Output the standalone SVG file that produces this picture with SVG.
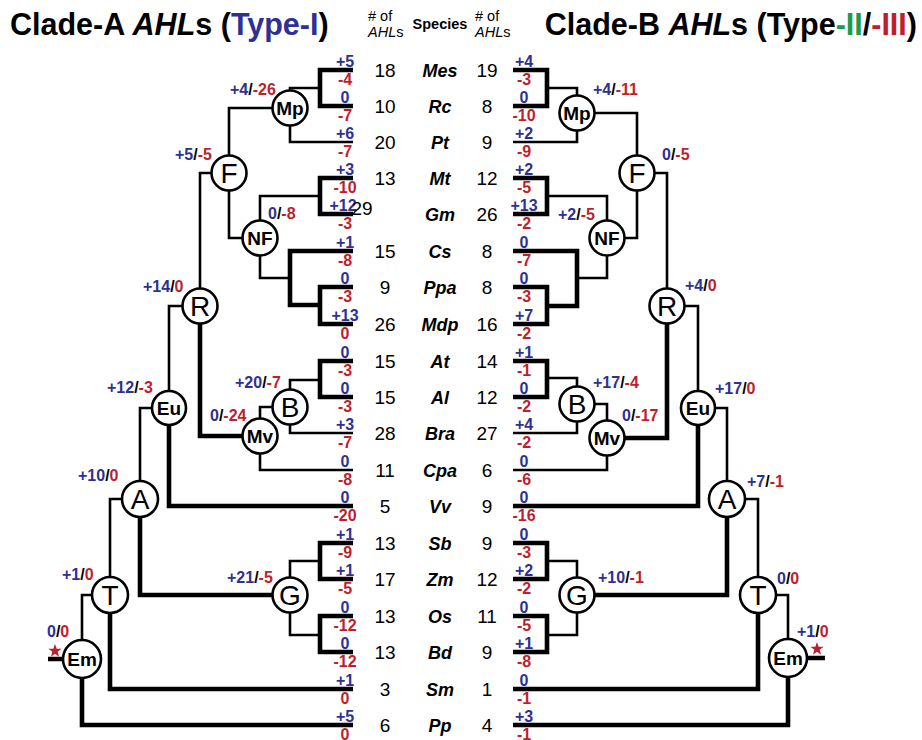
<svg xmlns="http://www.w3.org/2000/svg" width="922" height="740" viewBox="0 0 922 740">
<style>
text{font-family:"Liberation Sans",Arial,sans-serif}
.e{fill:none;stroke:#000;stroke-width:2.6;stroke-linejoin:miter}
.k{stroke-width:4.6}
.nd circle{fill:#fff;stroke:#000;stroke-width:2.6}
.l1{font-size:28px;text-anchor:middle}
.l2{font-size:19px;font-weight:bold;text-anchor:middle}
.gl{font-size:16px;font-weight:bold}
.lb{font-size:16px;font-weight:bold;text-anchor:middle}
.b{fill:#2e3192}
.r{fill:#be1e2d}
.gr{fill:#1e9b48}
.c{font-size:19px;text-anchor:middle}
.sp{font-size:18px;font-weight:bold;font-style:italic;text-anchor:middle}
.ti{font-size:30.5px;font-weight:bold}
.hd{font-size:14.5px}
.star{fill:#be1e2d}
</style>
<defs>
<path id="star" d="M0,-7 L1.65,-2.27 L6.66,-2.16 L2.66,0.87 L4.11,5.66 L0,2.8 L-4.11,5.66 L-2.66,0.87 L-6.66,-2.16 L-1.65,-2.27 Z"/>
</defs>

<g id="headers">
<text class="ti" x="10" y="35">Clade-A <tspan font-style="italic">AHL</tspan>s (<tspan class="b">Type-I</tspan>)</text>
<text class="ti" x="917" y="35" text-anchor="end">Clade-B <tspan font-style="italic">AHL</tspan>s (Type<tspan class="gr">-II</tspan>/<tspan class="r">-III</tspan>)</text>
<text class="hd" x="368" y="21"># of</text>
<text class="hd" x="368" y="37"><tspan font-style="italic">AHL</tspan>s</text>
<text class="hd" x="440" y="29" font-weight="bold" text-anchor="middle">Species</text>
<text class="hd" x="475" y="21"># of</text>
<text class="hd" x="475" y="37"><tspan font-style="italic">AHL</tspan>s</text>
</g>

<g id="connectors">
<path class="e k" d="M353,70 H320 V106 H353"/>
<path class="e" d="M320,88 H290 V108"/>
<path class="e" d="M290,108 V142 H353"/>
<path class="e" d="M290,108 H229 V173"/>
<path class="e" d="M229,173 V238 H260"/>
<path class="e" d="M260,238 V196 H320"/>
<path class="e k" d="M353,178 H320 V214 H353"/>
<path class="e" d="M260,238 V278 H290"/>
<path class="e k" d="M353,251 H290 V305 H320"/>
<path class="e k" d="M353,287 H320 V324 H353"/>
<path class="e" d="M229,173 H200 V306"/>
<path class="e k" d="M200,306 V436 H260"/>
<path class="e" d="M290,407 H260 V436"/>
<path class="e" d="M290,407 V380 H320"/>
<path class="e k" d="M353,361 H320 V397 H353"/>
<path class="e" d="M290,407 V433 H353"/>
<path class="e" d="M260,436 V470 H353"/>
<path class="e" d="M200,306 H169 V408"/>
<path class="e k" d="M169,408 V506 H353"/>
<path class="e" d="M169,408 H140 V499"/>
<path class="e k" d="M140,499 V595 H290"/>
<path class="e" d="M290,595 V561 H320"/>
<path class="e k" d="M353,543 H320 V579 H353"/>
<path class="e" d="M290,595 V635 H320"/>
<path class="e k" d="M353,616 H320 V652 H353"/>
<path class="e" d="M140,499 H110 V595"/>
<path class="e k" d="M110,595 V689 H353"/>
<path class="e" d="M110,595 H82 V659"/>
<path class="e k" d="M82,659 V725 H353"/>
<path class="e k" d="M48,659 H82"/>

<path class="e k" d="M513,70 H547 V106 H513"/>
<path class="e" d="M547,88 H577 V113"/>
<path class="e" d="M577,113 V142 H513"/>
<path class="e" d="M577,113 H637 V173"/>
<path class="e" d="M637,173 V238 H607"/>
<path class="e" d="M607,238 V196 H547"/>
<path class="e k" d="M513,178 H547 V214 H513"/>
<path class="e" d="M607,238 V278 H577"/>
<path class="e k" d="M513,251 H577 V306 H547"/>
<path class="e k" d="M513,287 H547 V324 H513"/>
<path class="e" d="M637,173 H667 V306"/>
<path class="e k" d="M667,306 V438 H607"/>
<path class="e" d="M577,404 H607 V438"/>
<path class="e" d="M577,404 V378 H547"/>
<path class="e k" d="M513,361 H547 V397 H513"/>
<path class="e" d="M577,404 V433 H513"/>
<path class="e" d="M607,438 V470 H513"/>
<path class="e" d="M667,306 H698 V408"/>
<path class="e k" d="M698,408 V506 H513"/>
<path class="e" d="M698,408 H727 V499"/>
<path class="e k" d="M727,499 V595 H577"/>
<path class="e" d="M577,595 V561 H547"/>
<path class="e k" d="M513,543 H547 V579 H513"/>
<path class="e" d="M577,595 V635 H547"/>
<path class="e k" d="M513,616 H547 V652 H513"/>
<path class="e" d="M727,499 H758 V595"/>
<path class="e k" d="M758,595 V689 H513"/>
<path class="e" d="M758,595 H788 V658"/>
<path class="e k" d="M788,658 V725 H513"/>
<path class="e k" d="M788,658 H825"/>
</g>

<!-- Clade A internal nodes -->
<g id="A-Mp" class="nd"><circle cx="290" cy="108" r="17.5"/><text class="l2" x="290" y="115">Mp</text><text class="gl" x="230" y="95"><tspan class="b">+4</tspan>/<tspan class="r">-26</tspan></text></g>
<g id="A-F" class="nd"><circle cx="229" cy="173" r="17.5"/><text class="l1" x="229" y="183">F</text><text class="gl" x="175" y="160"><tspan class="b">+5</tspan>/<tspan class="r">-5</tspan></text></g>
<g id="A-NF" class="nd"><circle cx="260" cy="238" r="17.5"/><text class="l2" x="260" y="245">NF</text><text class="gl" x="268" y="219"><tspan class="b">0</tspan>/<tspan class="r">-8</tspan></text></g>
<g id="A-R" class="nd"><circle cx="200" cy="306" r="17.5"/><text class="l1" x="200" y="316">R</text><text class="gl" x="143" y="292"><tspan class="b">+14</tspan>/<tspan class="r">0</tspan></text></g>
<g id="A-B" class="nd"><circle cx="290" cy="407" r="17.5"/><text class="l1" x="290" y="417">B</text><text class="gl" x="235" y="388"><tspan class="b">+20</tspan>/<tspan class="r">-7</tspan></text></g>
<g id="A-Mv" class="nd"><circle cx="260" cy="436" r="17.5"/><text class="l2" x="260" y="443">Mv</text><text class="gl" x="210" y="421"><tspan class="b">0</tspan>/<tspan class="r">-24</tspan></text></g>
<g id="A-Eu" class="nd"><circle cx="169" cy="408" r="17"/><text class="l2" x="169" y="415">Eu</text><text class="gl" x="107" y="393"><tspan class="b">+12</tspan>/<tspan class="r">-3</tspan></text></g>
<g id="A-A" class="nd"><circle cx="140" cy="499" r="18"/><text class="l1" x="140" y="509">A</text><text class="gl" x="78" y="481"><tspan class="b">+10</tspan>/<tspan class="r">0</tspan></text></g>
<g id="A-G" class="nd"><circle cx="290" cy="595" r="17.5"/><text class="l1" x="290" y="605">G</text><text class="gl" x="227" y="583"><tspan class="b">+21</tspan>/<tspan class="r">-5</tspan></text></g>
<g id="A-T" class="nd"><circle cx="110" cy="595" r="18"/><text class="l1" x="110" y="605">T</text><text class="gl" x="62" y="580"><tspan class="b">+1</tspan>/<tspan class="r">0</tspan></text></g>
<g id="A-Em" class="nd"><circle cx="82" cy="659" r="19"/><text class="l2" x="82" y="666">Em</text><text class="gl" x="47" y="637"><tspan class="b">0</tspan>/<tspan class="r">0</tspan></text><use href="#star" class="star" x="55" y="651"/></g>

<!-- Clade B internal nodes -->
<g id="B-Mp" class="nd"><circle cx="577" cy="113" r="17.5"/><text class="l2" x="577" y="120">Mp</text><text class="gl" x="593" y="95"><tspan class="b">+4</tspan>/<tspan class="r">-11</tspan></text></g>
<g id="B-F" class="nd"><circle cx="637" cy="173" r="17.5"/><text class="l1" x="637" y="183">F</text><text class="gl" x="662" y="160"><tspan class="b">0</tspan>/<tspan class="r">-5</tspan></text></g>
<g id="B-NF" class="nd"><circle cx="607" cy="238" r="17.5"/><text class="l2" x="607" y="245">NF</text><text class="gl" x="558" y="220"><tspan class="b">+2</tspan>/<tspan class="r">-5</tspan></text></g>
<g id="B-R" class="nd"><circle cx="667" cy="306" r="17.5"/><text class="l1" x="667" y="316">R</text><text class="gl" x="685" y="291"><tspan class="b">+4</tspan>/<tspan class="r">0</tspan></text></g>
<g id="B-B" class="nd"><circle cx="577" cy="404" r="17.5"/><text class="l1" x="577" y="414">B</text><text class="gl" x="593" y="388"><tspan class="b">+17</tspan>/<tspan class="r">-4</tspan></text></g>
<g id="B-Mv" class="nd"><circle cx="607" cy="438" r="17.5"/><text class="l2" x="607" y="445">Mv</text><text class="gl" x="622" y="421"><tspan class="b">0</tspan>/<tspan class="r">-17</tspan></text></g>
<g id="B-Eu" class="nd"><circle cx="698" cy="408" r="17"/><text class="l2" x="698" y="415">Eu</text><text class="gl" x="715" y="394"><tspan class="b">+17</tspan>/<tspan class="r">0</tspan></text></g>
<g id="B-A" class="nd"><circle cx="727" cy="499" r="18"/><text class="l1" x="727" y="509">A</text><text class="gl" x="747" y="487"><tspan class="b">+7</tspan>/<tspan class="r">-1</tspan></text></g>
<g id="B-G" class="nd"><circle cx="577" cy="595" r="17.5"/><text class="l1" x="577" y="605">G</text><text class="gl" x="598" y="583"><tspan class="b">+10</tspan>/<tspan class="r">-1</tspan></text></g>
<g id="B-T" class="nd"><circle cx="758" cy="595" r="18"/><text class="l1" x="758" y="605">T</text><text class="gl" x="777" y="584"><tspan class="b">0</tspan>/<tspan class="r">0</tspan></text></g>
<g id="B-Em" class="nd"><circle cx="788" cy="658" r="19"/><text class="l2" x="788" y="665">Em</text><text class="gl" x="797" y="637"><tspan class="b">+1</tspan>/<tspan class="r">0</tspan></text><use href="#star" class="star" x="817" y="649"/></g>

<!-- leaves -->
<g id="leaf-Mes"><text class="sp" x="440" y="77">Mes</text><text class="c" x="385" y="77">18</text><text class="c" x="487" y="77">19</text><text class="lb b" x="345" y="67">+5</text><text class="lb r" x="345" y="85">-4</text><text class="lb b" x="524" y="67">+4</text><text class="lb r" x="524" y="85">-3</text></g>
<g id="leaf-Rc"><text class="sp" x="440" y="113">Rc</text><text class="c" x="385" y="113">10</text><text class="c" x="487" y="113">8</text><text class="lb b" x="345" y="103">0</text><text class="lb r" x="345" y="121">-7</text><text class="lb b" x="524" y="103">0</text><text class="lb r" x="524" y="121">-10</text></g>
<g id="leaf-Pt"><text class="sp" x="440" y="149">Pt</text><text class="c" x="385" y="149">20</text><text class="c" x="487" y="149">9</text><text class="lb b" x="345" y="139">+6</text><text class="lb r" x="345" y="157">-7</text><text class="lb b" x="524" y="139">+2</text><text class="lb r" x="524" y="157">-9</text></g>
<g id="leaf-Mt"><text class="sp" x="440" y="185">Mt</text><text class="c" x="385" y="185">13</text><text class="c" x="487" y="185">12</text><text class="lb b" x="345" y="175">+3</text><text class="lb r" x="345" y="193">-10</text><text class="lb b" x="524" y="175">+2</text><text class="lb r" x="524" y="193">-5</text></g>
<g id="leaf-Gm"><text class="sp" x="440" y="221">Gm</text><text class="lb b" x="343" y="211">+12</text><text class="c" x="362" y="215">29</text><text class="c" x="487" y="221">26</text><text class="lb r" x="345" y="229">-3</text><text class="lb b" x="524" y="211">+13</text><text class="lb r" x="524" y="229">-2</text></g>
<g id="leaf-Cs"><text class="sp" x="440" y="258">Cs</text><text class="c" x="385" y="258">15</text><text class="c" x="487" y="258">8</text><text class="lb b" x="345" y="248">+1</text><text class="lb r" x="345" y="266">-8</text><text class="lb b" x="524" y="248">0</text><text class="lb r" x="524" y="266">-7</text></g>
<g id="leaf-Ppa"><text class="sp" x="440" y="294">Ppa</text><text class="c" x="385" y="294">9</text><text class="c" x="487" y="294">8</text><text class="lb b" x="345" y="284">0</text><text class="lb r" x="345" y="302">-3</text><text class="lb b" x="524" y="284">0</text><text class="lb r" x="524" y="302">-3</text></g>
<g id="leaf-Mdp"><text class="sp" x="440" y="331">Mdp</text><text class="c" x="385" y="331">26</text><text class="c" x="487" y="331">16</text><text class="lb b" x="345" y="321">+13</text><text class="lb r" x="345" y="339">0</text><text class="lb b" x="524" y="321">+7</text><text class="lb r" x="524" y="339">-2</text></g>
<g id="leaf-At"><text class="sp" x="440" y="368">At</text><text class="c" x="385" y="368">15</text><text class="c" x="487" y="368">14</text><text class="lb b" x="345" y="358">0</text><text class="lb r" x="345" y="376">-3</text><text class="lb b" x="524" y="358">+1</text><text class="lb r" x="524" y="376">-1</text></g>
<g id="leaf-Al"><text class="sp" x="440" y="404">Al</text><text class="c" x="385" y="404">15</text><text class="c" x="487" y="404">12</text><text class="lb b" x="345" y="394">0</text><text class="lb r" x="345" y="412">-3</text><text class="lb b" x="524" y="394">0</text><text class="lb r" x="524" y="412">-2</text></g>
<g id="leaf-Bra"><text class="sp" x="440" y="440">Bra</text><text class="c" x="385" y="440">28</text><text class="c" x="487" y="440">27</text><text class="lb b" x="345" y="430">+3</text><text class="lb r" x="345" y="448">-7</text><text class="lb b" x="524" y="430">+4</text><text class="lb r" x="524" y="448">-2</text></g>
<g id="leaf-Cpa"><text class="sp" x="440" y="477">Cpa</text><text class="c" x="385" y="477">11</text><text class="c" x="487" y="477">6</text><text class="lb b" x="345" y="467">0</text><text class="lb r" x="345" y="485">-8</text><text class="lb b" x="524" y="467">0</text><text class="lb r" x="524" y="485">-6</text></g>
<g id="leaf-Vv"><text class="sp" x="440" y="513">Vv</text><text class="c" x="385" y="513">5</text><text class="c" x="487" y="513">9</text><text class="lb b" x="345" y="503">0</text><text class="lb r" x="345" y="521">-20</text><text class="lb b" x="524" y="503">0</text><text class="lb r" x="524" y="521">-16</text></g>
<g id="leaf-Sb"><text class="sp" x="440" y="550">Sb</text><text class="c" x="385" y="550">13</text><text class="c" x="487" y="550">9</text><text class="lb b" x="345" y="540">+1</text><text class="lb r" x="345" y="558">-9</text><text class="lb b" x="524" y="540">0</text><text class="lb r" x="524" y="558">-3</text></g>
<g id="leaf-Zm"><text class="sp" x="440" y="586">Zm</text><text class="c" x="385" y="586">17</text><text class="c" x="487" y="586">12</text><text class="lb b" x="345" y="576">+1</text><text class="lb r" x="345" y="594">-5</text><text class="lb b" x="524" y="576">+2</text><text class="lb r" x="524" y="594">-2</text></g>
<g id="leaf-Os"><text class="sp" x="440" y="623">Os</text><text class="c" x="385" y="623">13</text><text class="c" x="487" y="623">11</text><text class="lb b" x="345" y="613">0</text><text class="lb r" x="345" y="631">-12</text><text class="lb b" x="524" y="613">0</text><text class="lb r" x="524" y="631">-5</text></g>
<g id="leaf-Bd"><text class="sp" x="440" y="659">Bd</text><text class="c" x="385" y="659">13</text><text class="c" x="487" y="659">9</text><text class="lb b" x="345" y="649">0</text><text class="lb r" x="345" y="667">-12</text><text class="lb b" x="524" y="649">+1</text><text class="lb r" x="524" y="667">-8</text></g>
<g id="leaf-Sm"><text class="sp" x="440" y="696">Sm</text><text class="c" x="385" y="696">3</text><text class="c" x="487" y="696">1</text><text class="lb b" x="345" y="686">+1</text><text class="lb r" x="345" y="704">0</text><text class="lb b" x="524" y="686">0</text><text class="lb r" x="524" y="704">-1</text></g>
<g id="leaf-Pp"><text class="sp" x="440" y="732">Pp</text><text class="c" x="385" y="732">6</text><text class="c" x="487" y="732">4</text><text class="lb b" x="345" y="722">+5</text><text class="lb r" x="345" y="740">0</text><text class="lb b" x="524" y="722">+3</text><text class="lb r" x="524" y="740">-1</text></g>
</svg>
